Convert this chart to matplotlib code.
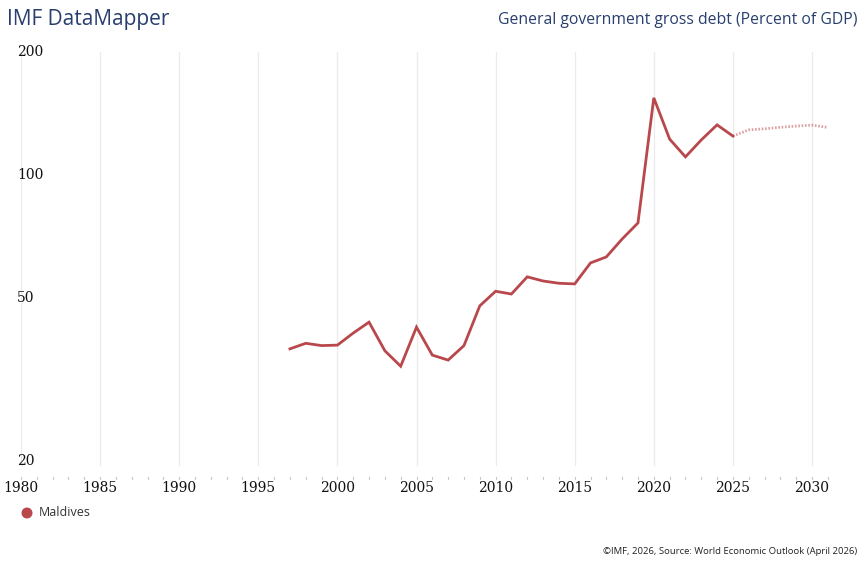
import matplotlib
matplotlib.use("Agg")
import matplotlib.pyplot as plt
from matplotlib.ticker import NullFormatter, NullLocator

years = list(range(1997, 2026))
debt = [37.6, 38.8, 38.3, 38.4, 41.1, 43.7, 37.2, 34.1, 42.5, 36.3, 35.3, 38.3,
        47.9, 52.0, 51.2, 56.4, 55.1, 54.4, 54.2, 61.0, 63.1, 69.8, 76.4,
        154.5, 122.5, 110.8, 121.9, 132.7, 124.6]
proj_years = list(range(2025, 2032))
proj_debt = [124.6, 129.0, 129.8, 130.9, 131.8, 132.5, 130.8]

y_ticks = [20, 50, 100, 200]
y_tick_labels = ["20", "50", "100", "200"]
x_ticks = list(range(1980, 2031, 5))

title_left = "IMF DataMapper"
title_right = "General government gross debt (Percent of GDP)"
series_name = "Maldives"
footer = "©IMF, 2026, Source: World Economic Outlook (April 2026)"

RED = "#b9484d"
NAVY = "#283f6e"
W, H = 864, 564

fig = plt.figure(figsize=(W / 100, H / 100), dpi=100)
# axes: left px 21 (1980), right px 845, top px 52, bottom px 466
ax = fig.add_axes([21 / W, 1 - 466 / H, 824 / W, 414 / H])
ax.set_yscale("log")
px_per_year = (812 - 21) / 50
ax.set_xlim(1980, 1980 + 824 / px_per_year)
ax.set_ylim(200 * 10 ** (-(466 - 52) / 409), 200)

for s in ax.spines.values():
    s.set_visible(False)
ax.yaxis.set_major_locator(NullLocator())
ax.yaxis.set_minor_locator(NullLocator())
ax.yaxis.set_minor_formatter(NullFormatter())
ax.set_xticks([])

for xt in x_ticks:
    ax.axvline(xt, color="#ebebeb", lw=0.9, zorder=0)

ax.plot(years, debt, color=RED, lw=2.0, solid_joinstyle="miter", zorder=3)
ax.plot(proj_years, proj_debt, color=RED, lw=2.0, ls=(0, (0.6, 0.6)), alpha=0.5, zorder=3)

# y labels
for v, lab in zip(y_ticks, y_tick_labels):
    ax.text(1980 - 4 / px_per_year, v, lab, ha="left", va="center",
            fontsize=10, family="DejaVu Serif", color="#111111", clip_on=False)

# year ticks and labels
xt_tr = ax.get_xaxis_transform()
for yr in range(1980, 2032):
    ax.plot([yr, yr], [-(11 / 414), -(13 / 414)], color="#c8c8c8", lw=0.8,
            transform=xt_tr, clip_on=False)
for xt in x_ticks:
    ax.text(xt, -(22 / 414), str(xt), ha="center", va="center", transform=xt_tr,
            fontsize=10, family="DejaVu Serif", color="#111111", clip_on=False)

fig.text(7 / W, 1 - 20 / H, title_left, ha="left", va="center", fontsize=15,
         family="Open Sans", color=NAVY)
fig.text(857 / W, 1 - 20 / H, title_right, ha="right", va="center", fontsize=11.3,
         family="Open Sans", color=NAVY)

fig.patches.append(matplotlib.patches.Circle((27, H - 513), 5.5, transform=None,
                                             facecolor=RED, edgecolor="none"))
fig.text(39 / W, 1 - 513 / H, series_name, ha="left", va="center", fontsize=9,
         family="Open Sans", color="#333333")
fig.text(857 / W, 1 - 551 / H, footer, ha="right", va="center", fontsize=6.8,
         family="Open Sans", color="#222222")

fig.savefig("out.png", dpi=100)
